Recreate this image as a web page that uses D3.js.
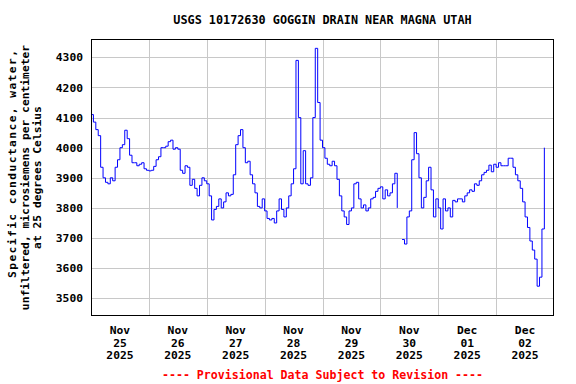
<!DOCTYPE html>
<html>
<head>
<meta charset="utf-8">
<script src="https://cdn.jsdelivr.net/npm/d3@7"></script>
<style>
  body { margin: 0; background: #fff; }
  text { font-family: "DejaVu Sans Mono", monospace; font-weight: bold; }
</style>
</head>
<body>
<script>
var titleText = "USGS 10172630 GOGGIN DRAIN NEAR MAGNA UTAH";
var yLabelLines = ["Specific conductance, water,", "unfiltered, microsiemens per centimeter", "at 25 degrees Celsius"];
var footerText = "---- Provisional Data Subject to Revision ----";

// hourly readings starting 2025-11-25 00:00, null = no data
var startTime = "2025-11-25T00:00";
var endTime = "2025-12-03T00:00";
var dayLabels = [["Nov","25","2025"],["Nov","26","2025"],["Nov","27","2025"],["Nov","28","2025"],
                 ["Nov","29","2025"],["Nov","30","2025"],["Dec","01","2025"],["Dec","02","2025"]];
var yTicks = [3500,3600,3700,3800,3900,4000,4100,4200,4300];
var values = [
  // Nov 25
  4110,4085,4060,4040,3935,3900,3885,3880,3900,3890,3935,3960,
  4000,4010,4058,4030,3975,3950,3950,3940,3945,3950,3930,3925,
  // Nov 26
  3923,3925,3938,3960,3970,4000,4000,4005,4020,4025,3995,4000,
  3995,3925,3915,3940,3935,3875,3895,3865,3840,3875,3900,3890,
  // Nov 27
  3880,3840,3760,3795,3805,3830,3800,3820,3850,3840,3845,3910,
  4010,4040,4060,4000,3950,3955,3910,3880,3850,3805,3800,3830,
  // Nov 28
  3790,3765,3760,3765,3750,3790,3830,3795,3770,3800,3840,3880,
  3930,4290,4100,3880,3990,3880,3875,3900,4100,4330,4150,4025,
  // Nov 29
  4000,3965,3945,3940,3955,3940,3895,3840,3790,3770,3745,3790,
  3800,3880,3885,3830,3800,3810,3790,3800,3830,3835,3855,3865,
  // Nov 30
  3870,3830,3860,3840,3850,3880,3915,3800,null,3695,3680,3770,
  3790,3960,4050,3980,3900,3800,3835,3890,3935,3860,3770,3830,
  // Dec 01
  3800,3730,3830,3790,3800,3770,3825,3820,3830,3830,3820,3840,
  3850,3860,3855,3880,3875,3890,3910,3918,3925,3942,3920,3945,
  // Dec 02
  3935,3950,3940,3940,3940,3965,3965,3935,3910,3890,3865,3820,
  3770,3735,3690,3660,3630,3540,3570,3730,4000
];

var width = 576, height = 384;
var plotLeft = 91, plotRight = 554, plotTop = 39, plotBottom = 316;

var svg = d3.select("body").append("svg")
    .attr("width", width)
    .attr("height", height);

var t0 = d3.utcParse("%Y-%m-%dT%H:%M")(startTime);
var t1 = d3.utcParse("%Y-%m-%dT%H:%M")(endTime);
var points = values.map(function(v,i){ return { t: d3.utcHour.offset(t0, i), v: v }; });

var x = d3.scaleUtc().domain([t0, t1]).range([plotLeft, plotRight]);
var y = d3.scaleLinear().domain([3441, 4361]).range([plotBottom, plotTop]);

//******************************************************************************
//****************************** Grid ******************************************
var midnights = d3.utcDay.range(d3.utcDay.offset(t0, 1), t1);
svg.append("g")
  .attr("transform", "translate(0," + plotBottom + ")")
  .call(d3.axisBottom(x).tickValues(midnights).tickSize(-(plotBottom - plotTop)).tickFormat(""))
  .call(function(g){ g.select(".domain").remove(); })
  .selectAll("line")
    .attr("stroke", "#c8c8c8")
    .attr("shape-rendering", "crispEdges");

svg.append("g")
  .attr("transform", "translate(" + plotLeft + ",0)")
  .call(d3.axisLeft(y).tickValues(yTicks).tickSize(-(plotRight - plotLeft)).tickPadding(8).tickFormat(d3.format("d")))
  .call(function(g){ g.select(".domain").remove(); })
  .call(function(g){
    g.selectAll("line").attr("stroke", "#c8c8c8").attr("shape-rendering", "crispEdges");
    g.selectAll("text")
      .attr("fill", "#000")
      .attr("font-size", "11.3px")
      .attr("font-family", "DejaVu Sans Mono")
      .attr("font-weight", "bold");
  });

//******************************************************************************
//****************************** Line ******************************************
var line = d3.line()
  .defined(function(d){ return d.v != null; })
  .x(function(d){ return x(d.t); })
  .y(function(d){ return y(d.v); })
  .curve(d3.curveStepAfter);

svg.append("path")
  .datum(points)
  .attr("fill", "none")
  .attr("stroke", "#0000ff")
  .attr("stroke-width", 1)
  .attr("d", line);

// frame
svg.append("rect")
  .attr("x", plotLeft + 0.5)
  .attr("y", plotTop + 0.5)
  .attr("width", plotRight - plotLeft - 1)
  .attr("height", plotBottom - plotTop - 1)
  .attr("fill", "none")
  .attr("stroke", "#000")
  .attr("stroke-width", 1);

//******************************************************************************
//****************************** X labels **************************************
var noons = d3.utcDay.range(t0, t1).map(function(d){ return d3.utcHour.offset(d, 12); });
var xl = svg.selectAll(".xlab")
  .data(noons)
  .enter().append("text")
    .attr("class", "xlab")
    .attr("text-anchor", "middle")
    .attr("font-size", "11.3px")
    .attr("fill", "#000");
xl.selectAll("tspan")
  .data(function(d,i){ return dayLabels[i].map(function(s){ return { s: s, t: d }; }); })
  .enter().append("tspan")
    .attr("x", function(d){ return x(d.t); })
    .attr("y", function(d,i){ return 334 + i*12.7; })
    .text(function(d){ return d.s; });

//******************************************************************************
//****************************** Titles ****************************************
svg.append("text")
  .attr("x", (plotLeft + plotRight)/2)
  .attr("y", 24)
  .attr("text-anchor", "middle")
  .attr("font-size", "11.8px")
  .attr("fill", "#000")
  .text(titleText);

// first line of the y title is spread wider in the original
svg.selectAll(".ylab")
  .data(yLabelLines)
  .enter().append("text")
    .attr("class", "ylab")
    .attr("text-anchor", "middle")
    .attr("font-size", "11.3px")
    .attr("fill", "#000")
    .attr("transform", function(d,i){ return "translate(" + (16 + i*12.7) + "," + ((plotTop + plotBottom)/2) + ") rotate(-90)"; })
    .text(function(d){ return d; });
svg.select(".ylab")
  .attr("transform", "translate(16," + 164 + ") rotate(-90)")
  .attr("textLength", 228)
  .attr("lengthAdjust", "spacing");

svg.append("text")
  .attr("x", (plotLeft + plotRight)/2)
  .attr("y", 379)
  .attr("text-anchor", "middle")
  .attr("font-size", "11.6px")
  .attr("fill", "#ff0000")
  .text(footerText);
</script>
</body>
</html>
